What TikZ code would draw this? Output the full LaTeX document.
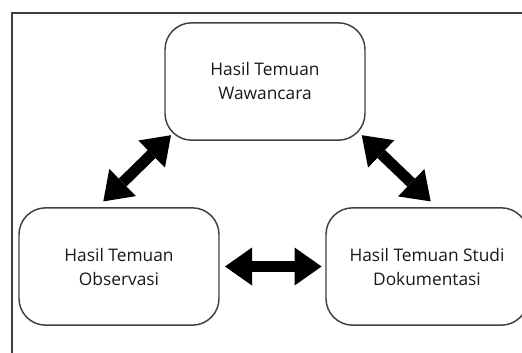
\documentclass[tikz,border=0pt]{standalone}
\usepackage{fontspec}
\setmainfont{Open Sans}
\usetikzlibrary{arrows.meta,calc}

\begin{document}
\begin{tikzpicture}[x=0.75pt,y=-0.75pt,
  temuan/.style={draw=black!75, line width=1.1pt, rounded corners=20pt,
    minimum width=150pt, minimum height=88pt, align=center, text=black!90,
    font=\fontsize{13}{18}\selectfont},
  panah/.style={line width=8.25pt, {Triangle[length=20.25pt,width=28.5pt,line width=0pt]}-{Triangle[length=20.25pt,width=28.5pt,line width=0pt]}}]
  % Draw the frame
  \useasboundingbox (0,0) rectangle (522,353);
  \clip (0,0) rectangle (522,353);
  \draw[black!75, line width=1.5pt] (12,353) -- (12,13.5) -- (522,13.5);

  % Draw the boxes
  \node[temuan] (wawancara) at (265,81.5) {Hasil Temuan\\Wawancara};
  \node[temuan] (observasi) at (119,266.5) {Hasil Temuan\\Observasi};
  \node[temuan, minimum width=151.5pt] (dokumentasi) at (427,266.5) {Hasil Temuan Studi\\Dokumentasi};

  % Draw the arrows
  \draw[panah] ($(wawancara.south west)+(6.7,-5.7)$) -- ($(observasi.north)+(-15.7,-5.7)$);
  \draw[panah] ($(wawancara.south east)+(-4,-5.7)$) -- ($(dokumentasi.north)+(3.7,-5.7)$);
  \draw[panah] ($(observasi.east)+(5.3,0)$) -- ($(dokumentasi.west)+(-3.7,0)$);
\end{tikzpicture}
\end{document}
